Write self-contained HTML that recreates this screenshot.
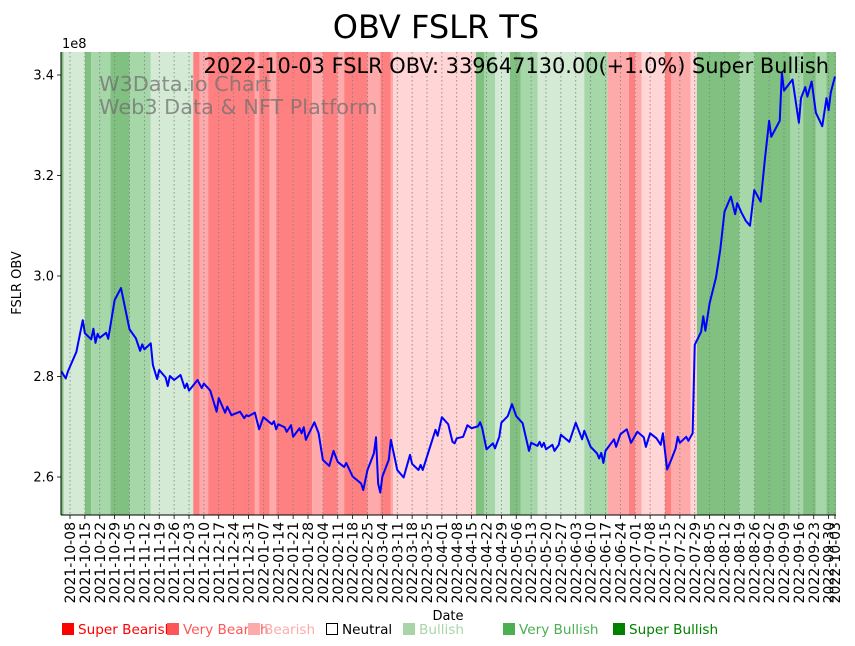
<!DOCTYPE html>
<html><head><meta charset="utf-8"><style>
html,body{margin:0;padding:0;background:#fff;}
svg{display:block;font-family:"DejaVu Sans","Liberation Sans",sans-serif;}
</style></head><body>
<svg id="chart" width="855" height="646" viewBox="0 0 855 646" xmlns="http://www.w3.org/2000/svg">
<g id="bands"></g>
<g id="grid"></g>
<text x="99" y="91" font-size="20.8" fill="#707070" fill-opacity="0.75">W3Data.io Chart</text>
<text x="99" y="114" font-size="20.8" fill="#707070" fill-opacity="0.75">Web3 Data &amp; NFT Platform</text>
<path id="line" fill="none" stroke="#0000ff" stroke-width="2" stroke-linejoin="round"/>
<text x="829" y="73" font-size="20.9" text-anchor="end" fill="#000">2022-10-03 FSLR OBV: 339647130.00(+1.0%) Super Bullish</text>
<g id="axes"></g>
<text x="436" y="38" font-size="32" text-anchor="middle" fill="#000">OBV FSLR TS</text>
<text x="62" y="48" font-size="13" fill="#000">1e8</text>
<text transform="translate(21,283) rotate(-90)" font-size="13" text-anchor="middle" fill="#000">FSLR OBV</text>
<text x="448" y="620" font-size="13" text-anchor="middle" fill="#000">Date</text>
<g id="legend"></g>
</svg>
<script>
const baseDate = "2021-10-04";
const dayOffsets = [0,2,3,7,10,11,14,15,16,17,18,21,22,25,28,32,35,37,38,39,42,43,45,46,49,50,51,53,56,58,59,60,64,66,67,70,73,74,77,78,80,84,86,87,88,91,93,95,99,100,101,102,105,106,108,109,112,113,114,115,119,121,123,126,128,130,133,134,137,141,142,144,147,148,149,150,151,154,155,158,161,164,165,168,169,170,176,177,179,182,184,185,186,189,191,193,196,197,198,200,203,204,206,207,210,212,214,217,220,221,224,225,226,227,228,231,232,234,235,239,242,245,246,249,252,253,254,255,256,260,261,263,266,268,271,274,275,277,280,282,283,285,287,289,290,291,294,295,297,298,301,302,303,305,308,310,312,315,317,318,320,322,324,325,326,329,331,333,334,338,339,340,344,347,348,350,351,353,355,358,360,361,362,364];
const obvValues = [2.810,2.796,2.810,2.849,2.912,2.886,2.874,2.895,2.867,2.885,2.877,2.887,2.875,2.952,2.976,2.894,2.876,2.851,2.864,2.854,2.866,2.823,2.795,2.813,2.798,2.781,2.801,2.793,2.803,2.777,2.786,2.772,2.793,2.777,2.786,2.772,2.730,2.757,2.728,2.740,2.723,2.730,2.717,2.723,2.721,2.728,2.695,2.719,2.705,2.711,2.695,2.705,2.699,2.690,2.703,2.680,2.697,2.687,2.699,2.674,2.709,2.687,2.634,2.622,2.652,2.630,2.620,2.628,2.601,2.587,2.574,2.614,2.647,2.679,2.587,2.569,2.601,2.634,2.674,2.614,2.599,2.644,2.626,2.614,2.624,2.614,2.694,2.682,2.719,2.705,2.670,2.667,2.677,2.680,2.703,2.697,2.701,2.709,2.697,2.655,2.667,2.657,2.680,2.708,2.721,2.745,2.721,2.707,2.652,2.668,2.662,2.670,2.660,2.668,2.655,2.664,2.652,2.664,2.684,2.670,2.708,2.675,2.692,2.660,2.647,2.637,2.648,2.628,2.652,2.675,2.660,2.685,2.695,2.668,2.690,2.679,2.660,2.687,2.677,2.664,2.687,2.615,2.635,2.657,2.680,2.668,2.680,2.672,2.687,2.863,2.889,2.920,2.891,2.946,2.997,3.052,3.128,3.158,3.123,3.145,3.126,3.110,3.100,3.135,3.171,3.148,3.232,3.309,3.277,3.309,3.405,3.369,3.391,3.305,3.354,3.376,3.357,3.387,3.325,3.298,3.354,3.330,3.365,3.397];
const bandStarts = ["2021-10-04","2021-10-05","2021-10-15","2021-10-18","2021-10-27","2021-11-05","2021-11-15","2021-12-05","2021-12-08","2021-12-12","2022-01-03","2022-01-05","2022-01-10","2022-01-13","2022-01-30","2022-02-04","2022-02-11","2022-02-14","2022-02-25","2022-03-03","2022-03-08","2022-03-09","2022-04-17","2022-04-21","2022-04-26","2022-05-03","2022-05-08","2022-05-16","2022-06-07","2022-06-18","2022-06-28","2022-07-01","2022-07-04","2022-07-15","2022-07-18","2022-07-27","2022-07-30","2022-08-19","2022-08-26","2022-09-12","2022-09-18","2022-09-24","2022-09-29"];
const bandLevels = [3,1,3,2,3,2,1,-3,-2,-3,-2,-3,-2,-3,-2,-3,-2,-3,-2,-3,-2,-1,3,2,1,3,2,1,2,-2,-3,-2,-1,-3,-2,-1,3,2,3,2,3,2,3];
const yTicks = [2.6,2.8,3.0,3.2,3.4];
const legendLabels = ["Super Bearish","Very Bearish","Bearish","Neutral","Bullish","Very Bullish","Super Bullish"];
const legendLevels = [-3,-2,-1,0,1,2,3];

const NS="http://www.w3.org/2000/svg";
const X0=61.5, PXD=2.125, L=61, R=836, T=52, B=515;
const bandColors={"-3":"#ff8080","-2":"#ffaaaa","-1":"#ffd5d5","0":"#ffffff","1":"#d4ead4","2":"#a6d7a8","3":"#80c080"};
const legColors={"-3":"#ff0000","-2":"#ff5555","-1":"#ffaaaa","0":"#000000","1":"#a8d5a8","2":"#4caf50","3":"#008000"};
const legX=[62,167,248,326,403,503,613];
function dayOf(s){return Math.round((Date.parse(s+"T00:00:00Z")-Date.parse(baseDate+"T00:00:00Z"))/86400000);}
function fmt(d){const t=new Date(Date.parse(baseDate+"T00:00:00Z")+d*86400000);return t.toISOString().slice(0,10);}
function xs(d){return X0+d*PXD;}
function ys(v){return 477-(v-2.6)/0.2*100.5;}
function mk(tag,attrs,parent){const e=document.createElementNS(NS,tag);for(const k in attrs)e.setAttribute(k,attrs[k]);parent.appendChild(e);return e;}

const bandsG=document.getElementById("bands");
for(let i=0;i<bandStarts.length;i++){
  const x1=Math.max(L,xs(dayOf(bandStarts[i])));
  const x2=i+1<bandStarts.length?xs(dayOf(bandStarts[i+1])):R;
  const r=mk("rect",{x:x1,y:T,width:Math.max(0,x2-x1),height:B-T,fill:bandColors[bandLevels[i]]},bandsG);
  
  
}

const tickDays=[];
for(let d=4;d<=364;d+=7)tickDays.push(d);
tickDays.push(364);
const gridG=document.getElementById("grid");
const axesG=document.getElementById("axes");
tickDays.forEach(d=>{
  const x=xs(d);
  const g=mk("line",{x1:x,x2:x,y1:T,y2:B,stroke:"#808080","stroke-width":0.8,"stroke-dasharray":"1.5,2.5"},gridG);
  
  
  mk("line",{x1:x,x2:x,y1:B,y2:B+4,stroke:"#000","stroke-width":0.8},axesG);
  const t=mk("text",{transform:`translate(${x+5},${B+7}) rotate(-90)`,"font-size":14,"text-anchor":"end",fill:"#000"},axesG);
  t.textContent=fmt(d);
  
  
});
yTicks.forEach(v=>{
  const y=ys(v);
  mk("line",{x1:L-4,x2:L,y1:y,y2:y,stroke:"#000","stroke-width":0.8},axesG);
  const t=mk("text",{x:L-7,y:y+4.5,"font-size":13,"text-anchor":"end",fill:"#000"},axesG);
  t.textContent=v.toFixed(1);
  
  
});
mk("line",{x1:L,x2:L,y1:T,y2:B,stroke:"#000","stroke-width":1},axesG);
mk("line",{x1:L,x2:R,y1:B,y2:B,stroke:"#000","stroke-width":1},axesG);

let dstr="";
for(let i=0;i<dayOffsets.length;i++){dstr+=(i?"L":"M")+xs(dayOffsets[i]).toFixed(2)+","+ys(obvValues[i]).toFixed(2);}
document.getElementById("line").setAttribute("d",dstr);

const legG=document.getElementById("legend");
legendLabels.forEach((lab,i)=>{
  const lv=legendLevels[i], c=legColors[lv], x=legX[i];
  const g=mk("g",{},legG);
  
  
  if(lv===0) mk("rect",{x:x+0.5,y:623.5,width:11,height:11,fill:"none",stroke:"#000","stroke-width":1},g);
  else mk("rect",{x:x,y:623,width:12,height:12,fill:c},g);
  const t=mk("text",{x:x+16,y:634,"font-size":13.6,fill:c},g);
  t.textContent=lab;
});
</script>
</body></html>
